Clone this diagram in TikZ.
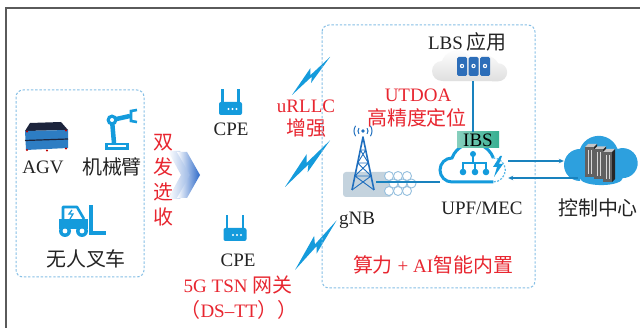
\documentclass[tikz,border=0pt]{standalone}
\usepackage{fontspec}
\setmainfont{Liberation Serif}
\newfontfamily\cjk{Noto Sans CJK SC}[Scale=1.05]
\usetikzlibrary{arrows.meta}

\definecolor{iconblue}{RGB}{20,155,220}
\definecolor{towerblue}{RGB}{30,110,190}
\definecolor{agvnavy}{RGB}{28,36,60}
\definecolor{agvblue}{RGB}{45,125,195}
\definecolor{chevblue}{RGB}{45,105,200}
\definecolor{txtred}{RGB}{232,38,48}
\definecolor{txtgray}{RGB}{35,35,35}
\definecolor{boxblue}{RGB}{135,192,230}
\definecolor{linkblue}{RGB}{25,130,190}
\definecolor{cloudblue}{RGB}{45,160,222}
\definecolor{ibsgreen}{RGB}{55,175,145}
\definecolor{framegray}{RGB}{90,90,90}
\definecolor{basegray}{RGB}{196,211,222}
\definecolor{hexblue}{RGB}{150,192,222}
\definecolor{appblue}{RGB}{45,110,185}

\tikzset{
  lbl/.style={text=txtgray, inner sep=1pt, font=\fontsize{19}{22}\selectfont},
  redlbl/.style={lbl, text=txtred},
  link/.style={draw=linkblue, line width=1.3pt},
  tip/.style={-{Stealth[length=5pt,width=4.5pt]}},
  dashbox/.style={draw=boxblue, dash pattern=on 2.4pt off 1.8pt, line width=1pt, rounded corners=7pt},
  % lightning bolt, drawn along +x from its tail
  bolt/.pic={\fill[iconblue] (0,0) -- (32,-6) -- (27,-1) -- (54,0) -- (22,5) -- (27,1) -- cycle;},
  % small router with two antennas
  router/.pic={
    \fill[iconblue, rounded corners=2pt] (-11.5,0) rectangle (11.5,13);
    \draw[iconblue, line width=2.6pt] (-8,1) -- (-8,-13) (8,1) -- (8,-13);
    \foreach \dx in {-2,2,6} \fill[white] (\dx,7) circle (1.1);
  }
}

\begin{document}
\begin{tikzpicture}[x=1pt, y=-1pt]
\useasboundingbox (0,0) rectangle (640,328);
\fill[white] (0,0) rectangle (640,328);
% outer frame, top and left edge only
\draw[framegray, line width=1.3pt] (6,328) -- (6,8) -- (640,8);

% terminals on the shop floor
\draw[dashbox] (16,90) rectangle (144,277);

% AGV
\fill[agvnavy] (30,123) -- (61,122) -- (68,130) -- (25,131) -- cycle;
\fill[agvblue] (25,131) -- (68,130) -- (68,148) -- (26,150) -- cycle;
\draw[agvnavy, line width=1.2pt] (25,140.5) -- (68,139);
\foreach \dx/\dy in {27/150, 47/150.5, 66/148.5, 27/131.5, 66/130.5} \fill[red!75!black] (\dx,\dy) circle (1.2);
\node[lbl] (agv) at (43,167) {AGV};

% robot arm
\fill[iconblue] (105,143) rectangle (129,150);
\fill[white] (108,145.5) rectangle (126,147.5);
\draw[iconblue, line width=4.5pt] (114,143) -- (112,120) -- (130,116);
\fill[iconblue] (112,120) circle (5.5);
\fill[white] (112,120) circle (2);
\draw[iconblue, line width=2.6pt] (137,110) -- (131,111) -- (131,121) -- (137,122);
\node[lbl] (arm) at (112,167) {\cjk 机械臂};

% forklift
\fill[iconblue] (59,219) rectangle (88,229);
\draw[iconblue, line width=2.6pt, line join=round] (63,219) -- (63,207) -- (77,207) -- (84,219);
\draw[iconblue, line width=1.2pt] (72,210) -- (69,214) -- (73,214) -- (70,219);
\fill[iconblue] (89,205) rectangle (93,235);
\fill[iconblue] (93,231) rectangle (106,235);
\foreach \wx in {65,82} {
  \fill[iconblue] (\wx,231) circle (6);
  \fill[white] (\wx,231) circle (2.4);
}
\node[lbl] (fork) at (86,259) {\cjk 无人叉车};

% dual send / selective receive
\node[redlbl, align=center, font=\fontsize{19}{25}\selectfont\cjk] (dual) at (163,180) {双\\发\\选\\收};
\shade[left color=white, right color=chevblue!55] (168,151) -- (180,151) -- (193,175) -- (180,199) -- (168,199) -- (181,175) -- cycle;
\shade[left color=white, right color=chevblue] (177,152) -- (187,152) -- (200,175) -- (187,198) -- (177,198) -- (190,175) -- cycle;

% CPE gateways
\pic at (230.5,102) {router};
\node[lbl] (cpeA) at (231,129) {CPE};
\pic at (235,228) {router};
\node[lbl] (cpeB) at (238,260) {CPE};
\node[redlbl] (tsn) at (238,285) {5G TSN {\cjk 网关}};
\node[redlbl] (dstt) at (239,310) {{\cjk （}DS–TT{\cjk ））}};

% radio links
\pic[rotate=45] at (292,95) {bolt};
\pic[rotate=46, scale=1.2] at (285,187) {bolt};
\pic[rotate=50, scale=1.2] at (295,270) {bolt};
\node[redlbl, align=center, font=\fontsize{19}{23}\selectfont] (urllc) at (306,119) {uRLLC\\{\cjk 增强}};

% edge site
\draw[dashbox] (322,25) rectangle (535,288);

% LBS application cloud
\shade[top color=white, bottom color=gray!25] (442,81) arc[start angle=90, end angle=270, radius=10]
  arc[start angle=200, end angle=340, radius=16] arc[start angle=220, end angle=330, radius=16]
  arc[start angle=270, end angle=450, radius=9] -- cycle;
\foreach \ax in {457,468.5,480} {
  \fill[appblue, rounded corners=1.5pt] (\ax,57) rectangle ++(10,19);
  \fill[white] (\ax+5,66) circle (2.2);
  \fill[appblue] (\ax+5,66) circle (1);
}
\node[inner sep=0, minimum width=70pt, minimum height=30pt] (lbs) at (473,66) {};
\node[lbl] (lbsapp) at (467,42) {LBS\,{\cjk 应用}};
\node[redlbl] (utdoa) at (418,95) {UTDOA};
\node[redlbl] (pos) at (417,118) {\cjk 高精度定位};

% gNB tower with its base
\fill[basegray, rounded corners=3pt] (343,172) rectangle (392,197);
\draw[towerblue, line width=1.6pt, line join=round] (352,190) -- (363,137) -- (374,190);
\draw[towerblue, line width=0.9pt] (360.3,150) -- (365.7,150) (357.6,163) -- (368.4,163) (354.9,176) -- (371.1,176)
  (360.3,150) -- (368.4,163) (365.7,150) -- (357.6,163)
  (357.6,163) -- (371.1,176) (368.4,163) -- (354.9,176)
  (354.9,176) -- (374,190) (371.1,176) -- (352,190);
\fill[towerblue] (363,131) circle (1.8);
\foreach \r in {5,9} {
  \draw[towerblue, line width=1pt] (363,131) ++(-35:\r) arc[start angle=-35, end angle=35, radius=\r];
  \draw[towerblue, line width=1pt] (363,131) ++(145:\r) arc[start angle=145, end angle=215, radius=\r];
}
\foreach \row/\dx in {0/0, 1/4.5, 2/0}
  \foreach \c in {0,1,2}
    \draw[hexblue, fill=white, line width=0.9pt] (389+\dx+9*\c, 176+7.5*\row) circle (4.5);
\coordinate (gnb) at (376,182);
\node[lbl] (gnblbl) at (357,220) {gNB};

% UPF/MEC cloud
\node[inner sep=0, minimum width=68pt, minimum height=42pt] (upf) at (474,161) {};
\fill[white] (493.3,182) -- (452,182) arc[start angle=90, end angle=270, radius=12]
  arc[start angle=200, end angle=340, radius=22] arc[start angle=270, end angle=450, radius=12] -- cycle;
\draw[iconblue, line width=3pt] (493.3,182) -- (452,182) arc[start angle=90, end angle=270, radius=12]
  arc[start angle=200, end angle=340, radius=22];
\draw[iconblue!70, line width=1.2pt, dash pattern=on 2pt off 1.5pt] (493.3,158) arc[start angle=270, end angle=450, radius=12];
\fill[iconblue] (473,154) circle (3);
\draw[iconblue, line width=1.3pt] (473,154) -- (473,163) (463,169) |- (486,163) -- (486,169) (475,163) -- (475,169);
\foreach \dx in {463,475,486} \fill[iconblue] (\dx,172) circle (3.3);
\fill[iconblue] (500,156) -- (493,167) -- (497,167) -- (494,177) -- (503,164) -- (499,164) -- (502,156) -- cycle;
\node[lbl, inner sep=0, minimum width=42pt, minimum height=16pt, left color=ibsgreen!60, right color=ibsgreen, text=black] (ibs) at (478,140) {IBS};
\node[lbl] (upflbl) at (482,208) {UPF/MEC};

% control centre: blue cloud with server racks
\fill[cloudblue] (580,181) arc[start angle=90, end angle=270, radius=16]
  arc[start angle=200, end angle=340, radius=20] arc[start angle=250, end angle=450, radius=15]
  arc[start angle=0, end angle=180, x radius=21.35, y radius=7] -- cycle;
\node[inner sep=0, minimum width=72pt, minimum height=50pt] (ctrl) at (600,161) {};
\foreach \i in {0,1,2} {
  \begin{scope}[shift={(585+9*\i,143+2.5*\i)}]
    \fill[gray!45] (0,4) -- (3,1) -- (12,1) -- (9,4) -- cycle;
    \fill[black!85] (9,4) -- (12,1) -- (12,31) -- (9,34) -- cycle;
    \fill[black!62] (0,4) rectangle (9,34);
    \draw[gray!30, line width=0.5pt] (3,7) -- (3,31) (6,7) -- (6,31);
  \end{scope}
}
\node[lbl] (ctrllbl) at (598,208) {\cjk 控制中心};

\node[redlbl] (ai) at (433,265) {{\cjk 算力} + AI{\cjk 智能内置}};

% connectors
\draw[link] (gnb) -- (gnb -| upf.west);
\draw[link] (lbs.south) -- (lbs.south |- ibs.north);
\draw[link, tip] (upf.east) -- (upf.east -| ctrl.west);
\draw[link, tip] ([yshift=-17pt, xshift=14pt]upf.east -| ctrl.west) -- ([yshift=-17pt]upf.east);
\end{tikzpicture}
\end{document}
